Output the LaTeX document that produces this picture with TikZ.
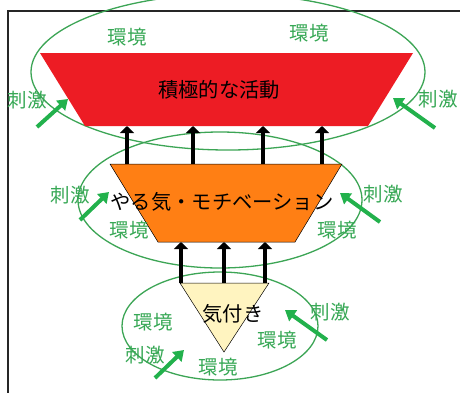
\documentclass[tikz,border=0pt]{standalone}
\usepackage{fontspec}
\newfontfamily\jp{Noto Sans CJK JP}
\usetikzlibrary{arrows.meta}
\definecolor{redfill}{RGB}{237,28,36}
\definecolor{orangefill}{RGB}{255,127,20}
\definecolor{yellowfill}{RGB}{255,244,192}
\definecolor{ringgreen}{RGB}{60,165,85}
\definecolor{textgreen}{RGB}{55,168,85}
\definecolor{arrowgreen}{RGB}{34,177,76}
\tikzset{
  frameline/.style={draw=black!85, line width=1.4pt},
  ring/.style={draw=ringgreen, line width=1.3pt},
  block/.style={draw=black, line width=0.5pt},
  lift/.style={draw=black, line width=4.5pt, -{Triangle[width=14pt,length=7pt]}},
  push/.style={draw=arrowgreen, line width=4pt, -{Triangle[width=13pt,length=10pt]}},
  mainlabel/.style={text=black, font=\jp\fontsize{20.3}{20}\selectfont, inner sep=0pt},
  envlabel/.style={text=textgreen, font=\jp\fontsize{19.5}{19}\selectfont, inner sep=0pt},
}
\begin{document}
\begin{tikzpicture}[x=1pt,y=-1pt]
\useasboundingbox (0,0) rectangle (460,392);
\clip (0,0) rectangle (460,392);
\fill[white] (0,0) rectangle (460,392);
\draw[frameline] (8,400) -- (8,11) -- (470,11);

% rings
\draw[ring] (228,72) ellipse [x radius=197pt, y radius=78pt];
\draw[ring] (220,200) ellipse [x radius=142pt, y radius=68pt];
\draw[ring] (220,326) ellipse [x radius=98pt, y radius=54pt];

% red block
\coordinate (r1) at (40,53);
\coordinate (r2) at (413,53);
\coordinate (r3) at (368,126);
\coordinate (r4) at (85,126);
\fill[redfill] (r1) -- (r2) -- (r3) -- (r4) -- cycle;

% orange block
\coordinate (o1) at (110,164);
\coordinate (o2) at (342,164);
\coordinate (o3) at (295,242);
\coordinate (o4) at (158,242);
\filldraw[block, fill=orangefill] (o1) -- (o2) -- (o3) -- (o4) -- cycle;

% yellow triangle
\coordinate (y1) at (180,283);
\coordinate (y2) at (269,283);
\coordinate (y3) at (224,352);
\filldraw[block, fill=yellowfill] (y1) -- (y2) -- (y3) -- cycle;

% black arrows orange -> red
\coordinate (ot1) at (127,164); \coordinate (rb1) at (127,126);
\coordinate (ot2) at (193,164); \coordinate (rb2) at (193,126);
\coordinate (ot3) at (263,164); \coordinate (rb3) at (263,126);
\coordinate (ot4) at (322,164); \coordinate (rb4) at (322,126);
\draw[lift] (ot1) -- (rb1);
\draw[lift] (ot2) -- (rb2);
\draw[lift] (ot3) -- (rb3);
\draw[lift] (ot4) -- (rb4);

% black arrows yellow -> orange
\coordinate (yt1) at (181,283); \coordinate (ob1) at (181,242);
\coordinate (yt2) at (224,283); \coordinate (ob2) at (224,242);
\coordinate (yt3) at (265,283); \coordinate (ob3) at (265,242);
\draw[lift] (yt1) -- (ob1);
\draw[lift] (yt2) -- (ob2);
\draw[lift] (yt3) -- (ob3);

% green arrows
\coordinate (g1s) at (37,127);  \coordinate (g1e) at (68,99);
\coordinate (g2s) at (435,128); \coordinate (g2e) at (393,98);
\coordinate (g3s) at (80,220);  \coordinate (g3e) at (109,192);
\coordinate (g4s) at (380,222); \coordinate (g4e) at (340,193);
\coordinate (g5s) at (155,378); \coordinate (g5e) at (184,350);
\coordinate (g6s) at (327,340); \coordinate (g6e) at (285,310);
\draw[push] (g1s) -- (g1e);
\draw[push] (g2s) -- (g2e);
\draw[push] (g3s) -- (g3e);
\draw[push] (g4s) -- (g4e);
\draw[push] (g5s) -- (g5e);
\draw[push] (g6s) -- (g6e);

% main labels
\node[mainlabel] (act) at (219,90) {積極的な活動};
\node[mainlabel] (mot) at (222,202) {やる気・モチベーション};
\node[mainlabel] (awr) at (233,314) {気付き};

% green labels
\node[envlabel] (e1) at (127,37) {環境};
\node[envlabel] (e2) at (309,33) {環境};
\node[envlabel] (s1) at (27,100) {刺激};
\node[envlabel] (s2) at (438,99) {刺激};
\node[envlabel] (s3) at (70,195) {刺激};
\node[envlabel] (s4) at (383,194) {刺激};
\node[envlabel] (e3) at (129,230) {環境};
\node[envlabel] (e4) at (337,230) {環境};
\node[envlabel] (e5) at (153,322) {環境};
\node[envlabel] (s5) at (145,355) {刺激};
\node[envlabel] (e6) at (218,367) {環境};
\node[envlabel] (e7) at (277,340) {環境};
\node[envlabel] (s6) at (330,312) {刺激};
\end{tikzpicture}
\end{document}
